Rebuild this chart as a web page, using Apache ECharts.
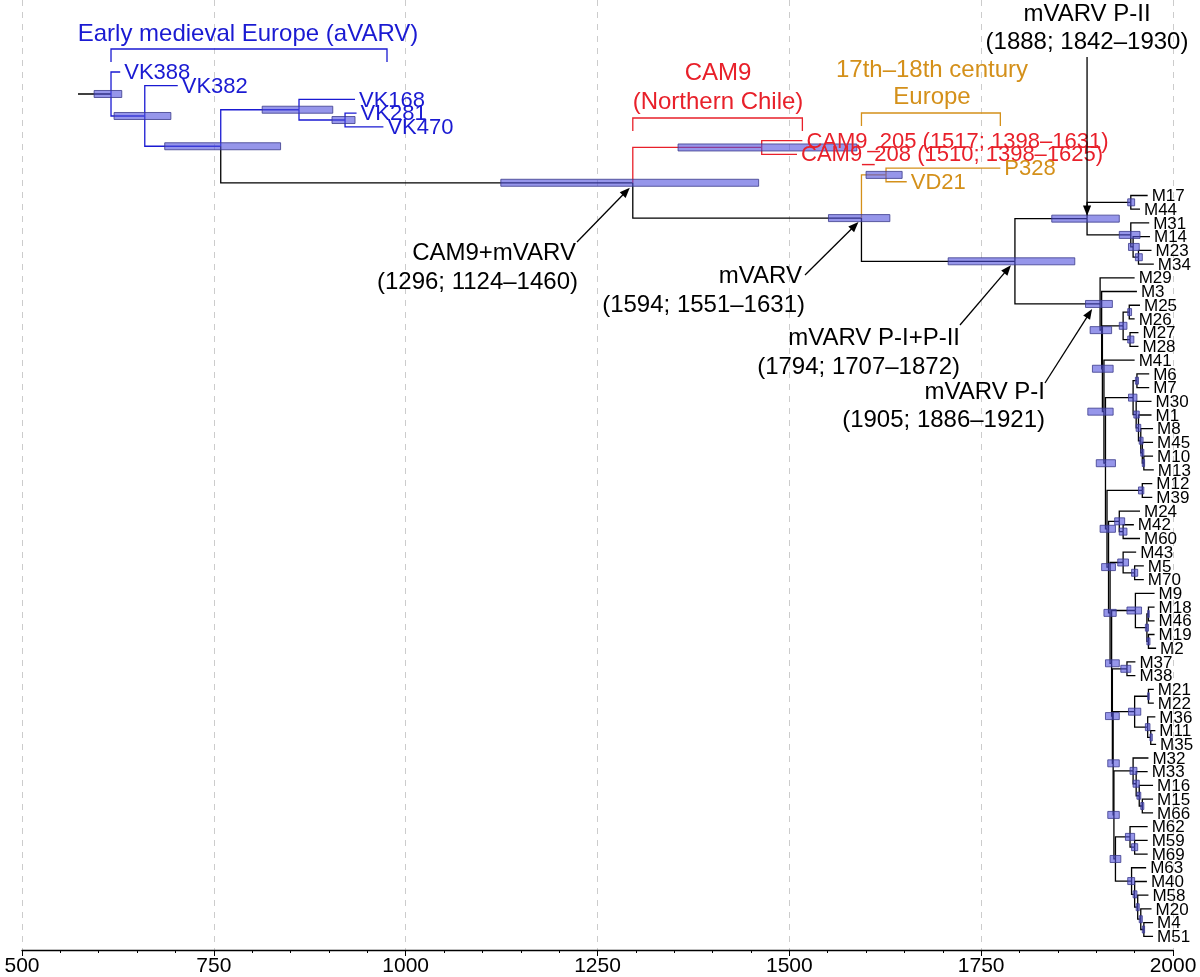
<!DOCTYPE html>
<html><head><meta charset="utf-8">
<script src="https://cdn.jsdelivr.net/npm/echarts@6/dist/echarts.min.js"></script>
<style>html,body{margin:0;padding:0;background:#fff}#c{width:1200px;height:977px}</style>
</head><body><div id="c"></div>
<script>
// Tree nodes in depth-first order: [name, parent, year, ciLow, ciHigh]
const nodes = [
 ['root',null,573,null,null],
 ['N0','root',616,594,630],
 ['VK388','N0',628,null,null],
 ['A','N0',660,620,694],
 ['VK382','A',703,null,null],
 ['B','A',759,686,837],
 ['C','B',861,813,905],
 ['VK168','C',934,null,null],
 ['E','C',921,904,934],
 ['VK281','E',936,null,null],
 ['VK470','E',971,null,null],
 ['D','B',1296,1124,1460],
 ['CAM','D',1464,1355,1588],
 ['CAM9_205','CAM',1517,null,null],
 ['CAM9_208','CAM',1510,null,null],
 ['MV','D',1594,1551,1631],
 ['EU','MV',1626,1600,1647],
 ['P328','EU',1775,null,null],
 ['VD21','EU',1653,null,null],
 ['P12','MV',1794,1707,1872],
 ['P2','P12',1888,1842,1930],
 ['n1744','P2',1945,1941,1950],
 ['M17','n1744',1967,null,null],
 ['M44','n1744',1957,null,null],
 ['n31','P2',1945,1930,1957],
 ['M31','n31',1969,null,null],
 ['n14','n31',1948,1942,1956],
 ['M14','n14',1970,null,null],
 ['n23','n14',1955,1951,1960],
 ['M23','n23',1972,null,null],
 ['M34','n23',1975,null,null],
 ['P1','P12',1905,1886,1921],
 ['M29','P1',1950,null,null],
 ['pa','P1',1907,1892,1920],
 ['M3','pa',1953,null,null],
 ['pb','pa',1908,1895,1922],
 ['c2528','pb',1935,1930,1940],
 ['c2526','c2528',1943,1941,1946],
 ['M25','c2526',1957,null,null],
 ['M26','c2526',1950,null,null],
 ['c2728','c2528',1944,1941,1949],
 ['M27','c2728',1955,null,null],
 ['M28','c2728',1955,null,null],
 ['pc','pb',1910,1889,1922],
 ['M41','pc',1950,null,null],
 ['pd','pc',1912,1900,1925],
 ['c6','pd',1948,1942,1953],
 ['c67','c6',1953,1951,1955],
 ['M6','c67',1969,null,null],
 ['M7','c67',1969,null,null],
 ['c30','c6',1952,1949,1956],
 ['M30','c30',1972,null,null],
 ['c1','c30',1955,1952,1958],
 ['M1','c1',1972,null,null],
 ['c8','c1',1958,1956,1961],
 ['M8','c8',1974,null,null],
 ['c45','c8',1960,1958,1962],
 ['M45','c45',1974,null,null],
 ['c10','c45',1962,1960,1963],
 ['M10','c10',1974,null,null],
 ['M13','c10',1975,null,null],
 ['pe','pd',1914,1905,1925],
 ['c1239','pe',1960,1955,1962],
 ['M12','c1239',1973,null,null],
 ['M39','c1239',1973,null,null],
 ['pf','pe',1916,1907,1925],
 ['g24','pf',1930,1924,1937],
 ['M24','g24',1957,null,null],
 ['g4260','g24',1935,1930,1940],
 ['M42','g4260',1949,null,null],
 ['M60','g4260',1957,null,null],
 ['pg','pf',1918,1910,1926],
 ['g43','pg',1935,1928,1942],
 ['M43','g43',1952,null,null],
 ['g570','g43',1950,1946,1954],
 ['M5','g570',1962,null,null],
 ['M70','g570',1962,null,null],
 ['ph','pg',1920,1912,1930],
 ['g9','ph',1951,1940,1959],
 ['M9','g9',1976,null,null],
 ['g1819','g9',1966,1964,1968],
 ['g1846','g1819',1968,1967,1969],
 ['M18','g1846',1976,null,null],
 ['M46','g1846',1976,null,null],
 ['g192','g1819',1968,1966,1970],
 ['M19','g192',1976,null,null],
 ['M2','g192',1978,null,null],
 ['pi','ph',1921,1912,1930],
 ['g3738','pi',1940,1932,1945],
 ['M37','g3738',1951,null,null],
 ['M38','g3738',1951,null,null],
 ['pj','pi',1922,1915,1930],
 ['g21','pj',1950,1942,1958],
 ['g2122','g21',1968,1967,1969],
 ['M21','g2122',1975,null,null],
 ['M22','g2122',1975,null,null],
 ['g36','g21',1967,1964,1970],
 ['M36','g36',1977,null,null],
 ['g1135','g36',1971,1970,1973],
 ['M11','g1135',1977,null,null],
 ['M35','g1135',1978,null,null],
 ['pk','pj',1923,1915,1930],
 ['g32','pk',1948,1944,1953],
 ['M32','g32',1968,null,null],
 ['g33','g32',1952,1948,1956],
 ['M33','g33',1967,null,null],
 ['g16','g33',1956,1953,1958],
 ['M16','g16',1974,null,null],
 ['g15','g16',1960,1958,1962],
 ['M15','g15',1974,null,null],
 ['M66','g15',1974,null,null],
 ['pl','pk',1925,1918,1932],
 ['g62','pl',1944,1938,1950],
 ['M62','g62',1967,null,null],
 ['g59','g62',1950,1946,1954],
 ['M59','g59',1967,null,null],
 ['M69','g59',1967,null,null],
 ['g63','pl',1946,1941,1950],
 ['M63','g63',1965,null,null],
 ['g40','g63',1950,1948,1953],
 ['M40','g40',1966,null,null],
 ['g58','g40',1954,1952,1956],
 ['M58','g58',1968,null,null],
 ['g20','g58',1958,1956,1960],
 ['M20','g20',1972,null,null],
 ['g4','g20',1962,1960,1963],
 ['M4','g4',1974,null,null],
 ['M51','g4',1974,null,null]
];
// clade assignments (inherited by descendants)
const cladeStart = {VK388:'aVARV', A:'aVARV', D:'none', CAM:'CAM9', EU:'EUR'};
const cladeColor = {none:'#000000', aVARV:'#1a1ad2', CAM9:'#e8202a', EUR:'#d4901a'};
const tipLabels = {CAM9_205:'CAM9_205 (1517; 1398–1631)', CAM9_208:'CAM9_208 (1510; 1398–1625)'};
const xTicks = {min:500, max:2000, interval:250};

// ---- layout from tree structure ----
const byName = {}, children = {};
nodes.forEach(n => { byName[n[0]] = {name:n[0], parent:n[1], year:n[2], lo:n[3], hi:n[4]}; children[n[0]] = []; });
nodes.forEach(n => { if (n[1]) children[n[1]].push(n[0]); });
let leafIdx = 0;
function layout(name, clade) {
  const nd = byName[name];
  nd.clade = cladeStart[name] || clade;
  const ch = children[name];
  if (!ch.length) { nd.y = leafIdx++; return; }
  ch.forEach(c => layout(c, nd.clade));
  nd.y = (byName[ch[0]].y + byName[ch[ch.length-1]].y) / 2;
}
layout('root', 'none');

const edgeData = [], barData = [], labelData = [];
nodes.forEach(n => {
  const nd = byName[n[0]];
  if (nd.parent) { const p = byName[nd.parent]; edgeData.push([p.year, p.y, nd.year, nd.y, nd.clade]); }
  if (nd.lo != null) barData.push([nd.lo, nd.hi, nd.y]);
  if (!children[n[0]].length) labelData.push([nd.year, nd.y, tipLabels[nd.name] || nd.name, nd.clade, nd.name.startsWith('M') ? 1 : 0]);
});

const chart = echarts.init(document.getElementById('c'));
const leafPx0 = 72, leafStep = 13.72, axisPx = 950;
chart.setOption({
  animation:false,
  grid:{left:22, right:27, top:0, bottom:977-axisPx},
  xAxis:{type:'value', min:xTicks.min, max:xTicks.max, interval:xTicks.interval,
    axisLine:{onZero:false, lineStyle:{color:'#000', width:1.3}},
    axisTick:{show:true, inside:false, length:6, lineStyle:{color:'#000'}},
    minorTick:{show:true, splitNumber:5, length:3, lineStyle:{color:'#000'}},
    axisLabel:{color:'#000', fontSize:21, fontFamily:'Liberation Sans', margin:6, formatter:v=>String(v)},
    splitLine:{show:true, lineStyle:{color:'#cccccc', type:[6,6], width:1}}},
  yAxis:{type:'value', inverse:true, show:false, min:-leafPx0/leafStep, max:(axisPx-leafPx0)/leafStep},
  series:[
   {type:'custom', data:edgeData, z:2, renderItem:(params, api) => {
      const px=api.value(0), py=api.value(1), cx=api.value(2), cy=api.value(3);
      const col = cladeColor[edgeData[params.dataIndex][4]];
      return {type:'polyline', shape:{points:[api.coord([px,py]), api.coord([px,cy]), api.coord([cx,cy])]},
        style:{stroke:col, lineWidth:1.3, fill:null}};
   }},
   {type:'custom', data:barData, z:3, renderItem:(params, api) => {
      const a=api.coord([api.value(0), api.value(2)]), b=api.coord([api.value(1), api.value(2)]);
      return {type:'rect', shape:{x:a[0], y:a[1]-3.5, width:b[0]-a[0], height:7},
        style:{fill:'rgba(80,80,220,0.6)', stroke:'#3a3a8a', lineWidth:0.8}};
   }},
   {type:'custom', data:labelData, z:4, renderItem:(params, api) => {
      const d = labelData[params.dataIndex];
      const p = api.coord([d[0], d[1]]);
      return {type:'text', x:p[0]+4, y:p[1]+1, style:{text:d[2], fill:cladeColor[d[3]],
        font: d[4] ? '17px "Liberation Sans"' : '22px "Liberation Sans"', textVerticalAlign:'middle', textAlign:'left'}};
   }}
  ]
});

// annotations anchored to node positions
function pos(name){ const n=byName[name]; return chart.convertToPixel({gridIndex:0}, [n.year, n.y]); }
const F='"Liberation Sans"';
function txt(x,y,s,col,align){ return {type:'text', x:x, y:y, z:10, style:{text:s, fill:col, font:'24px '+F, textAlign:align||'center', textVerticalAlign:'middle'}}; }
function arrow(x1,y1,x2,y2){
  const a=Math.atan2(y2-y1,x2-x1), L=11, w=0.38;
  return [{type:'line', z:10, shape:{x1,y1,x2:x2-Math.cos(a)*6,y2:y2-Math.sin(a)*6}, style:{stroke:'#000', lineWidth:1.3}},
   {type:'polygon', z:10, shape:{points:[[x2,y2],[x2-L*Math.cos(a-w),y2-L*Math.sin(a-w)],[x2-L*Math.cos(a+w),y2-L*Math.sin(a+w)]]}, style:{fill:'#000'}}];
}
function bracket(x1,x2,y,col){ return {type:'polyline', z:10, shape:{points:[[x1,y+13],[x1,y],[x2,y],[x2,y+13]]}, style:{stroke:col, lineWidth:1.3, fill:null}}; }
const pD=pos('D'), pMV=pos('MV'), pP12=pos('P12'), pP1=pos('P1'), pP2=pos('P2');
const pN0=pos('N0'), pC205=pos('CAM9_205'), pP328=pos('P328');
const g = [
  txt(248,34,'Early medieval Europe (aVARV)',cladeColor.aVARV),
  bracket(pN0[0], 387, 49, cladeColor.aVARV),
  txt(718,73,'CAM9',cladeColor.CAM9),
  txt(718,102,'(Northern Chile)',cladeColor.CAM9),
  bracket(pD[0], pC205[0], 118, cladeColor.CAM9),
  txt(932,70,'17th–18th century',cladeColor.EUR),
  txt(932,97,'Europe',cladeColor.EUR),
  bracket(pMV[0], pP328[0], 113, cladeColor.EUR),
  txt(1087,14,'mVARV P-II','#000'),
  txt(1087,42,'(1888; 1842–1930)','#000'),
  ...arrow(pP2[0], 57, pP2[0], pP2[1]-3),
  txt(576,253,'CAM9+mVARV','#000','right'),
  txt(578,282,'(1296; 1124–1460)','#000','right'),
  ...arrow(577,242,pD[0]-3,pD[1]+5),
  txt(802,276,'mVARV','#000','right'),
  txt(805,305,'(1594; 1551–1631)','#000','right'),
  ...arrow(805,275,pMV[0]-3,pMV[1]+4),
  txt(960,338,'mVARV P-I+P-II','#000','right'),
  txt(960,367,'(1794; 1707–1872)','#000','right'),
  ...arrow(960,325,pP12[0]-4,pP12[1]+4),
  txt(1045,392,'mVARV P-I','#000','right'),
  txt(1045,420,'(1905; 1886–1921)','#000','right'),
  ...arrow(1045,383,pP1[0]-8,pP1[1]+5)
];
chart.setOption({graphic:g});
</script></body></html>
